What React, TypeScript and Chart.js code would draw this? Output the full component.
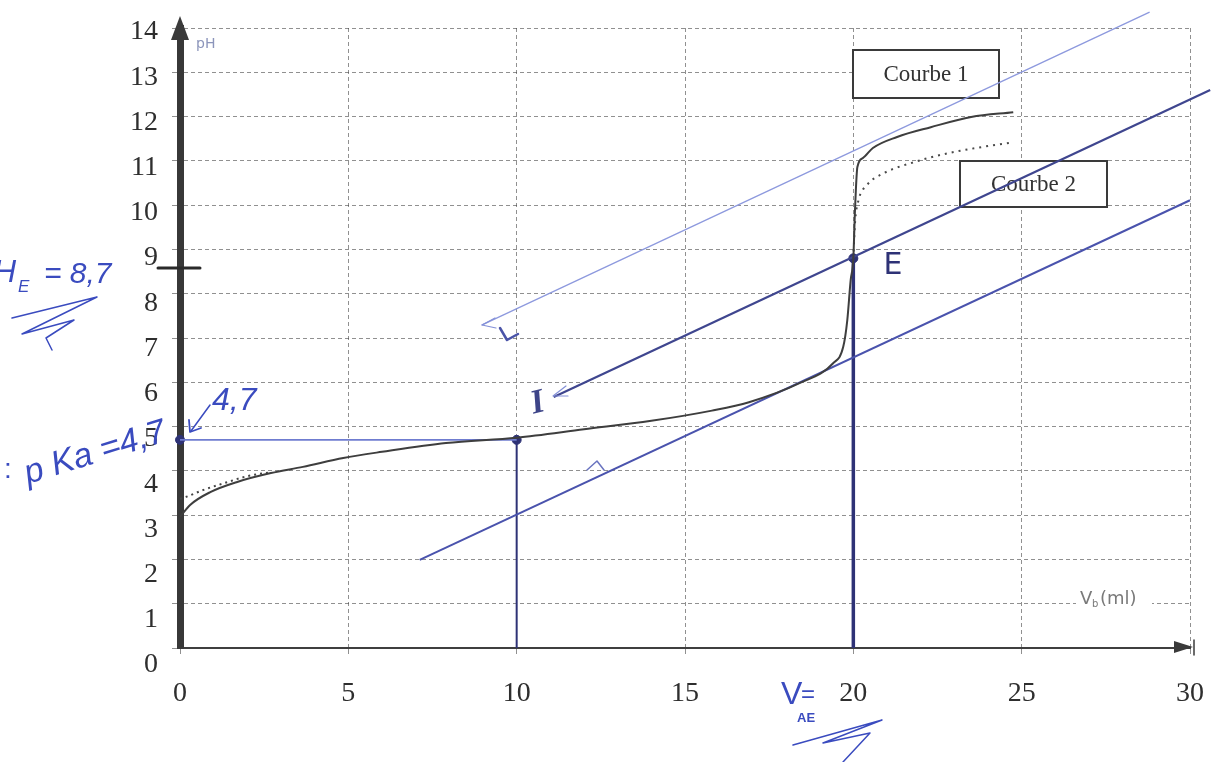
import React, { useEffect, useRef } from 'react';
import { Chart, registerables } from 'chart.js';

Chart.register(...registerables);

// ---- data ----
const xTickValues = [0, 5, 10, 15, 20, 25, 30];
const yTickValues = [0, 1, 2, 3, 4, 5, 6, 7, 8, 9, 10, 11, 12, 13, 14];

// Courbe 1 (solid)
const curve1X = [0, 0.3, 0.9, 1.7, 2.7, 3.65, 4.85, 6.0, 7.9, 10, 12.0, 14.0, 15.8, 16.9, 18.4, 19.4, 19.7, 19.82, 19.92, 20.0, 20.05, 20.12, 20.28, 20.58, 21.3, 22.3, 23.5, 24.75];
const curve1Y = [2.96, 3.23, 3.52, 3.75, 3.95, 4.09, 4.29, 4.43, 4.63, 4.75, 4.94, 5.13, 5.36, 5.55, 5.98, 6.43, 6.8, 7.4, 8.3, 8.8, 9.9, 10.86, 11.06, 11.29, 11.54, 11.76, 11.99, 12.1];

// Courbe 2 (dotted), parts that differ from Courbe 1
const curve2StartX = [0, 0.1, 0.7, 1.3, 2.0, 2.7];
const curve2StartY = [3.37, 3.39, 3.57, 3.72, 3.88, 3.97];
const curve2EndX = [20.0, 20.05, 20.15, 20.4, 20.9, 21.8, 22.8, 23.8, 24.75];
const curve2EndY = [8.8, 9.6, 10.1, 10.45, 10.72, 10.97, 11.17, 11.31, 11.42];

// hand-drawn parallel tangents
const tangentUpperX = [8.96, 28.8];
const tangentUpperY = [7.29, 14.36];
const tangentMidX = [11.1, 30.6];
const tangentMidY = [5.67, 12.6];
const tangentLowX = [7.12, 30.0];
const tangentLowY = [1.99, 10.11];

// construction lines
const pKaLineX = [0, 10];
const pKaLineY = [4.7, 4.7];
const halfEqX = [10, 10];
const halfEqY = [0, 4.7];
const eqX = [20, 20];
const eqY = [0, 8.8];
const markX = [0, 10, 20];
const markY = [4.7, 4.7, 8.8];

const pts = (xs: number[], ys: number[]) => xs.map((x, i) => ({ x, y: ys[i] }));

const HAND = '#3a4bbf';
const NAVY = '#2e3276';

const annotPlugin = {
  id: 'annot',
  beforeDatasetsDraw(chart: any) {
    const ctx = chart.ctx;
    const ca = chart.chartArea;
    const P = (px: number, py: number) => [ca.left + (px - 180) * ca.width / 1010, ca.top + (py - 28) * ca.height / 620];
    const box = (x1: number, y1: number, x2: number, y2: number, label: string) => {
      const [a, b] = P(x1, y1);
      const [c, d] = P(x2, y2);
      ctx.save();
      ctx.fillStyle = '#ffffff';
      ctx.fillRect(a, b, c - a, d - b);
      ctx.strokeStyle = '#3a3a3a';
      ctx.lineWidth = 2;
      ctx.strokeRect(a, b, c - a, d - b);
      ctx.fillStyle = '#333333';
      ctx.font = "23px 'Liberation Serif'";
      ctx.textAlign = 'center';
      ctx.textBaseline = 'middle';
      ctx.fillText(label, (a + c) / 2, (b + d) / 2 + 1);
      ctx.restore();
    };
    box(853, 50, 999, 98, 'Courbe 1');
    box(960, 161, 1107, 207, 'Courbe 2');

    // Vb(ml) label with white background
    ctx.save();
    const [vx, vy] = P(1080, 604);
    ctx.fillStyle = '#ffffff';
    ctx.fillRect(vx - 4, vy - 18, 76, 24);
    ctx.fillStyle = '#7a7a7a';
    ctx.font = "18px 'DejaVu Sans'";
    ctx.textBaseline = 'alphabetic';
    ctx.fillText('V', vx, vy);
    ctx.font = "10px 'DejaVu Sans'";
    ctx.fillText('b', vx + 12, vy + 3);
    ctx.font = "18px 'DejaVu Sans'";
    ctx.fillText('(ml)', vx + 20, vy);
    ctx.restore();
  },
  afterDraw(chart: any) {
    const ctx = chart.ctx;
    const ca = chart.chartArea;
    const P = (px: number, py: number) => [ca.left + (px - 180) * ca.width / 1010, ca.top + (py - 28) * ca.height / 620];
    const path = (list: number[][], color: string, w: number) => {
      ctx.save();
      ctx.strokeStyle = color;
      ctx.lineWidth = w;
      ctx.lineCap = 'round';
      ctx.lineJoin = 'round';
      ctx.beginPath();
      list.forEach((p, i) => {
        const [x, y] = P(p[0], p[1]);
        if (i === 0) ctx.moveTo(x, y);
        else ctx.lineTo(x, y);
      });
      ctx.stroke();
      ctx.restore();
    };
    const text = (s: string, px: number, py: number, font: string, color: string, align = 'left', rot = 0) => {
      const [x, y] = P(px, py);
      ctx.save();
      ctx.translate(x, y);
      if (rot) ctx.rotate(rot);
      ctx.font = font;
      ctx.fillStyle = color;
      ctx.textAlign = align;
      ctx.textBaseline = 'alphabetic';
      ctx.fillText(s, 0, 0);
      ctx.restore();
    };
    const tri = (a: number[], b: number[], c: number[], color: string) => {
      ctx.save();
      ctx.fillStyle = color;
      ctx.beginPath();
      const [x1, y1] = P(a[0], a[1]);
      const [x2, y2] = P(b[0], b[1]);
      const [x3, y3] = P(c[0], c[1]);
      ctx.moveTo(x1, y1);
      ctx.lineTo(x2, y2);
      ctx.lineTo(x3, y3);
      ctx.closePath();
      ctx.fill();
      ctx.restore();
    };

    // axis arrows
    tri([180, 16], [171, 40], [189, 40], '#3a3a3a');
    tri([1193, 647], [1174, 641], [1174, 653], '#3a3a3a');
    path([[1194, 640], [1194, 655]], '#3a3a3a', 1.5);

    // y-axis marker for pH_E
    path([[158, 268], [200, 268]], '#2a2a2a', 3);

    // pH label at top of axis
    text('pH', 196, 48, "14px 'DejaVu Sans'", 'rgba(120,130,175,0.85)');

    // pH_E = 8,7
    text('pH', 16, 282, "italic 32px 'Liberation Sans'", HAND, 'right');
    text('E', 18, 292, "italic 17px 'Liberation Sans'", HAND);
    text('= 8,7', 44, 283, "italic 30px 'Liberation Sans'", HAND);
    path([[12, 318], [97, 297], [22, 334], [74, 320], [46, 338], [52, 350]], HAND, 1.5);

    // pKa = 4,7
    text('p Ka =4,7', 28, 484, "italic 34px 'Liberation Sans'", HAND, 'left', -0.3);
    text(':', 4, 478, "28px 'Liberation Sans'", HAND);

    // 4,7 with arrow
    text('4,7', 212, 410, "italic 32px 'Liberation Sans'", HAND);
    path([[210, 405], [191, 431]], HAND, 1.5);
    path([[189, 420], [190, 432], [201, 428]], HAND, 1.8);

    // I and E
    text('I', 540, 412, "italic bold 34px 'Liberation Serif'", '#3d4488', 'center', -0.25);
    text('E', 893, 274, "30px 'DejaVu Sans'", NAVY, 'center');

    // tangent tick / arrow marks
    path([[500, 328], [507, 340], [518, 334]], '#4a54a8', 2.5);
    path([[566, 386], [553, 396], [568, 396]], '#8390d8', 1.2);
    path([[587, 470], [597, 461], [604, 470]], '#6a74c0', 1.5);
    path([[495, 318], [482, 325], [496, 328]], '#8390d8', 1.2);

    // V_AE = 20
    text('V', 781, 704, "32px 'Liberation Sans'", HAND);
    text('AE', 797, 722, "bold 13px 'Liberation Sans'", HAND);
    text('=', 801, 702, "24px 'Liberation Sans'", HAND);
    path([[793, 745], [882, 720], [823, 743], [870, 733], [843, 762]], HAND, 1.5);
  },
};

export default function App() {
  const canvasRef = useRef<HTMLCanvasElement | null>(null);

  useEffect(() => {
    document.body.style.margin = '0';
    const canvas = canvasRef.current;
    if (!canvas) return;

    const chart = new Chart(canvas, {
      type: 'line',
      data: {
        datasets: [
          {
            label: 'Courbe 1',
            data: pts(curve1X, curve1Y),
            borderColor: '#3e3e3e',
            borderWidth: 2,
            pointRadius: 0,
            cubicInterpolationMode: 'monotone',
            fill: false,
          },
          {
            label: 'Courbe 2 (début)',
            data: pts(curve2StartX, curve2StartY),
            borderColor: '#444444',
            borderWidth: 2,
            borderDash: [2, 4],
            pointRadius: 0,
            cubicInterpolationMode: 'monotone',
            fill: false,
          },
          {
            label: 'Courbe 2 (fin)',
            data: pts(curve2EndX, curve2EndY),
            borderColor: '#4a4a4a',
            borderWidth: 2,
            borderDash: [2, 5],
            pointRadius: 0,
            cubicInterpolationMode: 'monotone',
            fill: false,
          },
          {
            label: 'tangente haute',
            data: pts(tangentUpperX, tangentUpperY),
            borderColor: '#8d99de',
            borderWidth: 1.3,
            pointRadius: 0,
            clip: false,
          },
          {
            label: 'parallèle',
            data: pts(tangentMidX, tangentMidY),
            borderColor: '#3f468f',
            borderWidth: 2.2,
            pointRadius: 0,
            clip: false,
          },
          {
            label: 'tangente basse',
            data: pts(tangentLowX, tangentLowY),
            borderColor: '#4a53ad',
            borderWidth: 2,
            pointRadius: 0,
            clip: false,
          },
          {
            label: 'pKa',
            data: pts(pKaLineX, pKaLineY),
            borderColor: '#6f7cd0',
            borderWidth: 1.6,
            pointRadius: 0,
          },
          {
            label: 'demi-équivalence',
            data: pts(halfEqX, halfEqY),
            borderColor: NAVY,
            borderWidth: 2,
            pointRadius: 0,
          },
          {
            label: 'équivalence',
            data: pts(eqX, eqY),
            borderColor: NAVY,
            borderWidth: 3.5,
            pointRadius: 0,
          },
          {
            label: 'points',
            data: pts(markX, markY),
            showLine: false,
            pointRadius: 4.5,
            pointBackgroundColor: NAVY,
            pointBorderColor: NAVY,
            clip: false,
          },
        ],
      },
      options: {
        responsive: false,
        animation: false,
        events: [],
        layout: { padding: { top: 28, right: 24, left: 0, bottom: 0 } },
        plugins: {
          legend: { display: false },
          tooltip: { enabled: false },
        },
        scales: {
          x: {
            type: 'linear',
            min: 0,
            max: 30,
            afterBuildTicks: (s: any) => {
              s.ticks = xTickValues.map((v) => ({ value: v }));
            },
            afterFit: (s: any) => {
              s.height = 114;
              s.paddingLeft = 0;
              s.paddingRight = 0;
            },
            ticks: {
              autoSkip: false,
              color: '#2e2e2e',
              font: { family: "'Liberation Serif'", size: 28 },
              padding: 23,
              maxRotation: 0,
            },
            grid: {
              color: 'rgba(70,70,70,0.6)',
              lineWidth: 1,
              drawTicks: true,
              tickLength: 6,
            },
            border: { display: true, color: '#3f3f3f', width: 2, dash: [4, 3] },
          },
          y: {
            type: 'linear',
            position: 'left',
            weight: 0,
            min: 0,
            max: 14,
            afterBuildTicks: (s: any) => {
              s.ticks = yTickValues.map((v) => ({ value: v }));
            },
            afterFit: (s: any) => {
              s.width = 0;
              s.paddingTop = 0;
              s.paddingBottom = 0;
            },
            ticks: { display: false },
            grid: {
              color: 'rgba(70,70,70,0.6)',
              lineWidth: 1,
              drawTicks: true,
              tickLength: 8,
            },
            border: { display: true, color: '#383838', width: 7, dash: [4, 3] },
          },
          yLabels: {
            type: 'linear',
            position: 'left',
            weight: 1,
            min: 0.376,
            max: 14.09,
            afterBuildTicks: (s: any) => {
              s.ticks = yTickValues.map((v) => ({ value: v }));
            },
            afterFit: (s: any) => {
              s.width = 180;
              s.paddingTop = 0;
              s.paddingBottom = 0;
            },
            ticks: {
              autoSkip: false,
              color: '#2e2e2e',
              font: { family: "'Liberation Serif'", size: 28, lineHeight: 0.2 },
              padding: 22,
            },
            grid: { display: false, drawTicks: false },
            border: { display: false },
          },
        },
      },
      plugins: [annotPlugin],
    } as any);

    return () => {
      chart.destroy();
    };
  }, []);

  return (
    <div style={{ width: 1214, height: 762, position: 'relative', background: '#ffffff' }}>
      <canvas ref={canvasRef} width={1214} height={762} style={{ display: 'block', width: 1214, height: 762 }} />
    </div>
  );
}
